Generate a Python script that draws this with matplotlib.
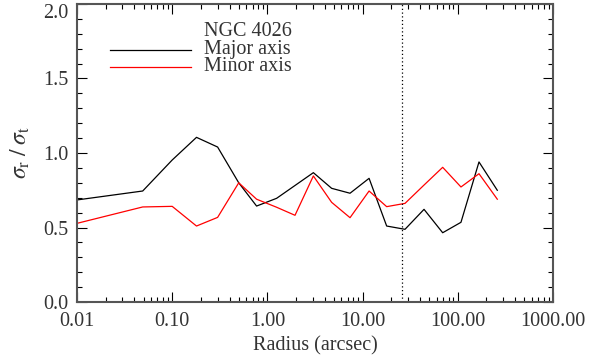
import matplotlib
matplotlib.use('Agg')
import matplotlib.pyplot as plt
import matplotlib.transforms as mtransforms
from matplotlib.ticker import FixedLocator, LogLocator, MultipleLocator, NullFormatter

plt.rcParams['font.family'] = ['Liberation Serif', 'DejaVu Serif']
plt.rcParams['mathtext.fontset'] = 'stix'

# data
radius = [0.01, 0.049, 0.10, 0.18, 0.30, 0.50, 0.77, 1.25, 1.95, 3.04, 4.73, 7.38,
          11.7, 17.9, 27.9, 44.2, 69.4, 108.0, 167.0, 260.0]
majorAxis = [0.685, 0.745, 0.953, 1.105, 1.04, 0.80, 0.644, 0.696, None, 0.868, 0.763, 0.73,
             0.83, 0.51, 0.488, 0.622, 0.465, 0.535, 0.94, 0.75]
minorAxis = [0.528, 0.638, 0.642, 0.51, 0.568, 0.80, 0.69, 0.636, 0.582, 0.846, 0.669, 0.566,
             0.745, 0.64, 0.662, 0.785, 0.904, 0.772, 0.861, 0.69]
effRadius = 25.7
xTickValues = [0.01, 0.1, 1, 10, 100, 1000]
xTickLabels = ['0.01', '0.10', '1.00', '10.00', '100.00', '1000.00']
yTickValues = [0, 0.5, 1.0, 1.5, 2.0]
yTickLabels = ['0.0', '0.5', '1.0', '1.5', '2.0']
galaxyName = 'NGC 4026'

textColor = '#333333'
spineColor = '#555555'

fig = plt.figure(figsize=(6.16, 3.6), dpi=100)
ax = fig.add_axes([0.125, 0.161, 0.7727, 0.828])

# black line skips the point where no major-axis value was read
majX = [r for r, v in zip(radius, majorAxis) if v is not None]
majY = [v for v in majorAxis if v is not None]
ax.plot(majX, majY, color='black', lw=0.9)
ax.plot(radius, minorAxis, color='#ff0000', lw=0.9)
ax.axvline(effRadius, color='black', lw=0.9, ls=(0, (1, 2)))

ax.set_xscale('log')
ax.set_xlim(0.01, 1000)
ax.set_ylim(0, 2.0)

ax.xaxis.set_major_locator(FixedLocator(xTickValues))
ax.set_xticklabels(xTickLabels)
ax.xaxis.set_minor_locator(LogLocator(base=10, subs=range(2, 10)))
ax.xaxis.set_minor_formatter(NullFormatter())
ax.yaxis.set_minor_locator(MultipleLocator(0.1))
ax.set_yticks(yTickValues)
ax.set_yticklabels(yTickLabels)

ax.tick_params(which='both', direction='in', top=True, right=True, colors='black',
               labelcolor=textColor, labelsize=14.5)
ax.tick_params(which='major', length=7.2, width=0.8)
ax.tick_params(which='minor', length=3.6, width=0.8)
ax.tick_params(axis='y', pad=6)
ax.tick_params(axis='x', pad=7)

# top label sits a bit lower, as in the IDL original
topLabel = ax.get_yticklabels()[-1]
topLabel.set_transform(topLabel.get_transform() +
                       mtransforms.ScaledTranslation(0, -5 / 72, fig.dpi_scale_trans))

for sp in ax.spines.values():
    sp.set_color(spineColor)
    sp.set_linewidth(1.5)

ax.set_xlabel('Radius (arcsec)', fontsize=14.5, color=textColor, labelpad=4)
ax.set_ylabel(r'$\sigma_{\rm r}\;/\;\sigma_{\rm t}$', fontsize=17, color=textColor, labelpad=8)

# legend drawn by hand, IDL style
ax.text(0.267, 0.907, galaxyName, transform=ax.transAxes, fontsize=14.5, color=textColor,
        va='center', ha='left')
ax.plot([0.069, 0.239], [0.846, 0.846], transform=ax.transAxes, color='black', lw=0.9)
ax.text(0.267, 0.846, 'Major axis', transform=ax.transAxes, fontsize=14.5, color=textColor,
        va='center', ha='left')
ax.plot([0.069, 0.239], [0.789, 0.789], transform=ax.transAxes, color='#ff0000', lw=0.9)
ax.text(0.267, 0.789, 'Minor axis', transform=ax.transAxes, fontsize=14.5, color=textColor,
        va='center', ha='left')

fig.savefig('out.png', dpi=100)
